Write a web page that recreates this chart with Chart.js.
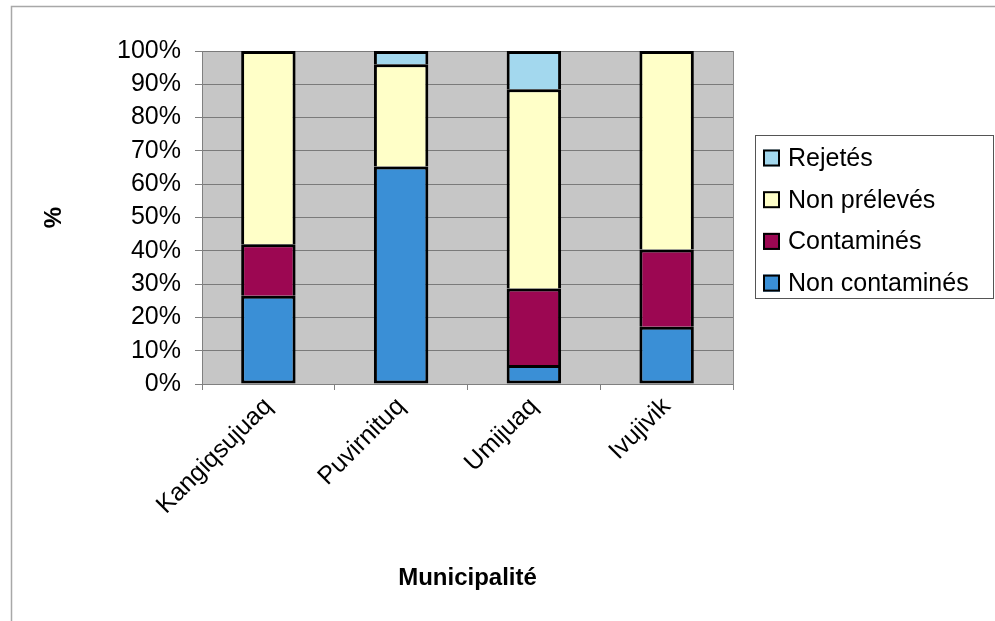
<!DOCTYPE html>
<html>
<head>
<meta charset="utf-8">
<script src="https://cdn.jsdelivr.net/npm/chart.js@4/dist/chart.umd.min.js"></script>
<style>
  html, body { margin: 0; padding: 0; background: #fff; }
  #wrap { width: 995px; height: 621px; position: relative; }
</style>
</head>
<body>
<div id="wrap"><canvas id="c" width="995" height="621"></canvas></div>
<script>
// Municipalities on the category axis
const municipalites = ['Kangiqsujuaq', 'Puvirnituq', 'Umijuaq', 'Ivujivik'];

// Share of each outcome per municipality (%)
const nonContamines = [26.5, 65.3, 5.7, 17.2];
const contamines    = [15.5, 0, 23.0, 23.2];
const nonPreleves   = [58.0, 30.7, 59.8, 59.6];
const rejetes       = [0, 4.0, 11.5, 0];

// Y axis tick values
const yTicks = [0, 10, 20, 30, 40, 50, 60, 70, 80, 90, 100];

const FONT = 'Liberation Sans, Arial, sans-serif';

// Plot background, plot right edge, outer frame and the boxed legend
const decor = {
  id: 'decor',
  beforeDraw(chart) {
    const { ctx, chartArea: a } = chart;
    ctx.save();
    ctx.fillStyle = '#fff';
    ctx.fillRect(0, 0, chart.width, chart.height);
    ctx.fillStyle = '#c6c6c6';
    ctx.fillRect(a.left, a.top, a.right - a.left, a.bottom - a.top);
    // frame around the whole figure (top and left edges visible)
    ctx.strokeStyle = '#a8a8a8';
    ctx.lineWidth = 1.5;
    ctx.beginPath();
    ctx.moveTo(11.5, chart.height);
    ctx.lineTo(11.5, 6.5);
    ctx.lineTo(chart.width, 6.5);
    ctx.stroke();
    ctx.restore();
  },
  beforeDatasetsDraw(chart) {
    const { ctx, chartArea: a } = chart;
    ctx.save();
    ctx.strokeStyle = '#8a8a8a';
    ctx.lineWidth = 1;
    ctx.beginPath();
    ctx.moveTo(Math.round(a.right) + 0.5, a.top);
    ctx.lineTo(Math.round(a.right) + 0.5, a.bottom + 6);
    ctx.stroke();
    ctx.restore();
  },
  afterDraw(chart) {
    const { ctx } = chart;
    const ds = chart.data.datasets.slice().reverse();
    const box = { x: 755.5, y: 135.5, w: 238, h: 163 };
    ctx.save();
    ctx.strokeStyle = '#555';
    ctx.lineWidth = 1;
    ctx.strokeRect(box.x, box.y, box.w, box.h);
    ctx.font = '25px ' + FONT;
    ctx.textBaseline = 'middle';
    ctx.textAlign = 'left';
    ds.forEach((d, i) => {
      const cy = 158 + i * 41.7;
      ctx.fillStyle = d.backgroundColor;
      ctx.fillRect(763, cy - 8.5, 17, 17);
      ctx.strokeStyle = '#000';
      ctx.lineWidth = 2;
      ctx.strokeRect(764, cy - 7.5, 15, 15);
      ctx.fillStyle = '#000';
      ctx.fillText(d.label, 788, cy + 1);
    });
    ctx.restore();
  }
};

const barStyle = {
  borderColor: '#000',
  borderWidth: 3,
  barPercentage: 0.41,
  categoryPercentage: 1.0
};

new Chart(document.getElementById('c'), {
  type: 'bar',
  data: {
    labels: municipalites,
    datasets: [
      Object.assign({ label: 'Non contaminés', data: nonContamines, backgroundColor: '#3a8fd6', borderSkipped: false }, barStyle),
      Object.assign({ label: 'Contaminés', data: contamines, backgroundColor: '#9c0752', borderSkipped: 'start' }, barStyle),
      Object.assign({ label: 'Non prélevés', data: nonPreleves, backgroundColor: '#ffffc8', borderSkipped: 'start' }, barStyle),
      Object.assign({ label: 'Rejetés', data: rejetes, backgroundColor: '#a3d8ee', borderSkipped: 'start' }, barStyle)
    ]
  },
  options: {
    responsive: false,
    animation: false,
    devicePixelRatio: 1,
    layout: { padding: { left: 0, right: 262, top: 51, bottom: 0 } },
    plugins: {
      legend: { display: false },
      tooltip: { enabled: false }
    },
    scales: {
      x: {
        stacked: true,
        afterFit(scale) { scale.height = 237; },
        grid: {
          offset: true,
          drawOnChartArea: false,
          drawTicks: true,
          tickLength: 6,
          color: '#808080'
        },
        border: { display: true, color: '#808080', width: 1 },
        ticks: {
          minRotation: 45,
          maxRotation: 45,
          padding: 2,
          color: '#000',
          font: { family: FONT, size: 25 }
        },
        title: {
          display: true,
          text: 'Municipalité',
          color: '#000',
          font: { family: FONT, size: 24, weight: 'bold' },
          padding: { top: 0, bottom: 28 }
        }
      },
      y: {
        stacked: true,
        min: 0,
        max: 100,
        afterFit(scale) { scale.width = 202; },
        afterBuildTicks(scale) { scale.ticks = yTicks.map(v => ({ value: v })); },
        grid: {
          color: '#7a7a7a',
          lineWidth: 1,
          drawTicks: true,
          tickLength: 7,
          tickColor: '#808080'
        },
        border: { display: true, color: '#808080', width: 1 },
        ticks: {
          padding: 14,
          color: '#000',
          font: { family: FONT, size: 25 },
          callback: v => v + '%'
        },
        title: {
          display: true,
          text: '%',
          color: '#000',
          font: { family: FONT, size: 24, weight: 'bold' },
          padding: { top: 40, bottom: 0 }
        }
      }
    }
  },
  plugins: [decor]
});
</script>
</body>
</html>
